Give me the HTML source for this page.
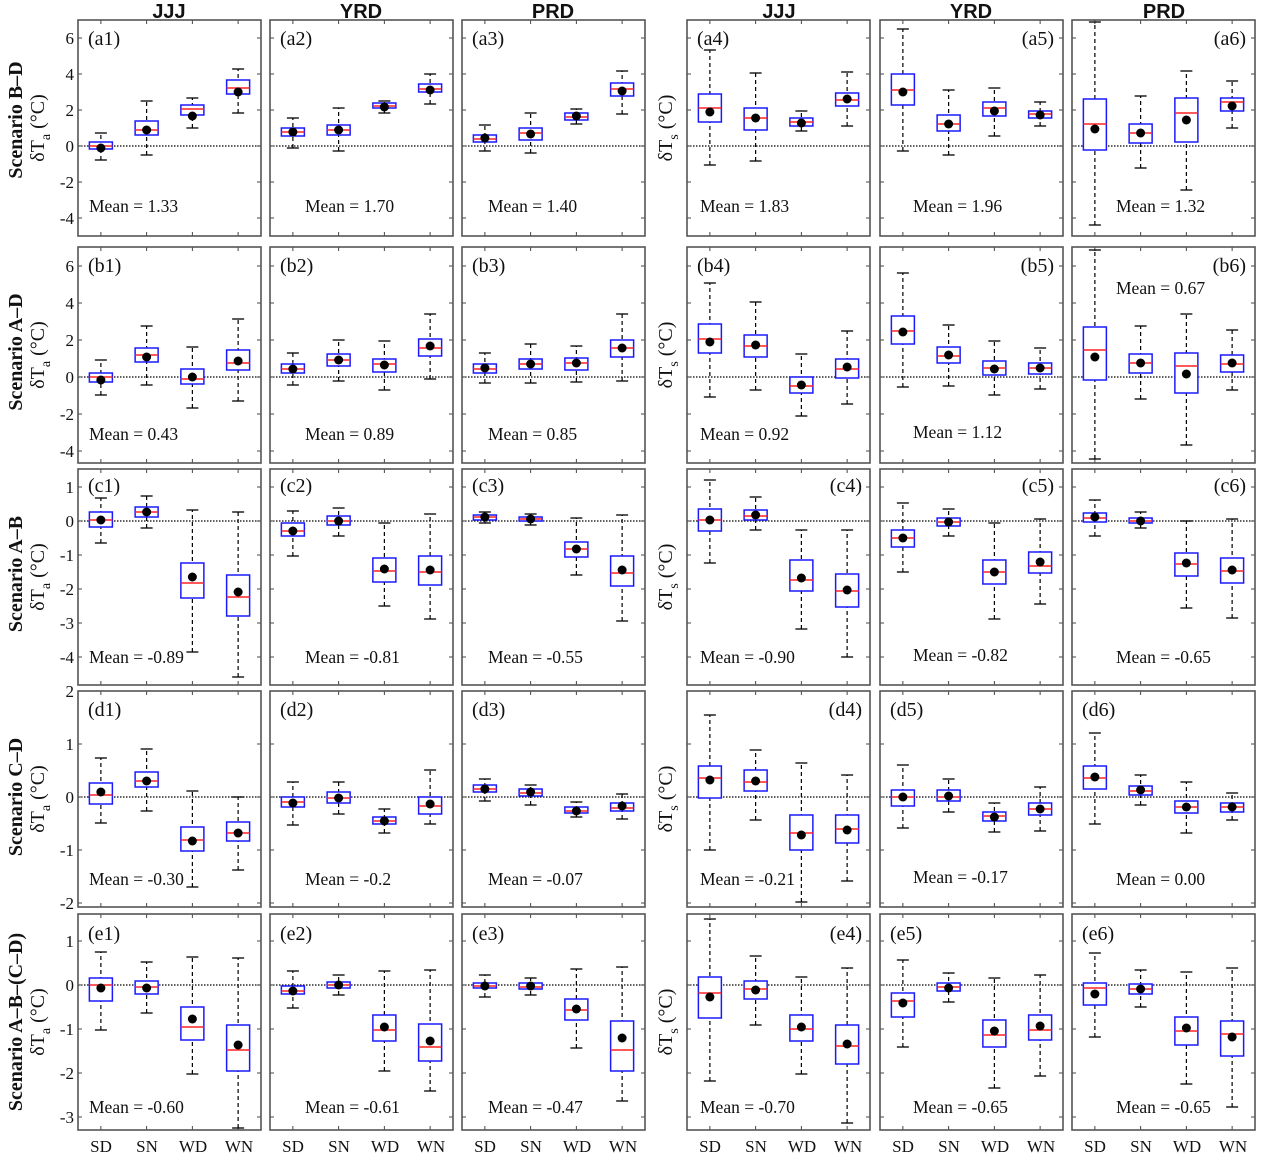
<!DOCTYPE html>
<html><head><meta charset="utf-8"><style>
body{margin:0;background:#fff}
svg{display:block}
text{font-family:"Liberation Serif",serif;fill:#111}
.t{font-size:17px}
.pl{font-size:20px}
.m{font-size:17.5px}
.h{font-family:"Liberation Sans",sans-serif;font-weight:bold;font-size:20px}
.s{font-weight:bold;font-size:20px}
.yl{font-size:20px}
</style></head><body>
<svg id="g" width="1268" height="1169" xmlns="http://www.w3.org/2000/svg">
<g id="shapes"></g>
<text class="h" x="169" y="18" text-anchor="middle">JJJ</text>
<text class="h" x="361" y="18" text-anchor="middle">YRD</text>
<text class="h" x="553" y="18" text-anchor="middle">PRD</text>
<text class="h" x="779" y="18" text-anchor="middle">JJJ</text>
<text class="h" x="971" y="18" text-anchor="middle">YRD</text>
<text class="h" x="1164" y="18" text-anchor="middle">PRD</text>
<text class="s" transform="translate(22,120) rotate(-90)" text-anchor="middle">Scenario B–D</text>
<text class="yl" transform="translate(44,128) rotate(-90)" text-anchor="middle">δT<tspan dy="6" font-size="14">a</tspan><tspan dy="-6"> (°C)</tspan></text>
<text class="s" transform="translate(22,352) rotate(-90)" text-anchor="middle">Scenario A–D</text>
<text class="yl" transform="translate(44,355) rotate(-90)" text-anchor="middle">δT<tspan dy="6" font-size="14">a</tspan><tspan dy="-6"> (°C)</tspan></text>
<text class="s" transform="translate(22,574) rotate(-90)" text-anchor="middle">Scenario A–B</text>
<text class="yl" transform="translate(44,577) rotate(-90)" text-anchor="middle">δT<tspan dy="6" font-size="14">a</tspan><tspan dy="-6"> (°C)</tspan></text>
<text class="s" transform="translate(22,797) rotate(-90)" text-anchor="middle">Scenario C–D</text>
<text class="yl" transform="translate(44,799) rotate(-90)" text-anchor="middle">δT<tspan dy="6" font-size="14">a</tspan><tspan dy="-6"> (°C)</tspan></text>
<text class="s" transform="translate(22,1022) rotate(-90)" text-anchor="middle">Scenario A–B–(C–D)</text>
<text class="yl" transform="translate(44,1022) rotate(-90)" text-anchor="middle">δT<tspan dy="6" font-size="14">a</tspan><tspan dy="-6"> (°C)</tspan></text>
<text class="yl" transform="translate(672,128) rotate(-90)" text-anchor="middle">δT<tspan dy="6" font-size="14">s</tspan><tspan dy="-6"> (°C)</tspan></text>
<text class="yl" transform="translate(672,355) rotate(-90)" text-anchor="middle">δT<tspan dy="6" font-size="14">s</tspan><tspan dy="-6"> (°C)</tspan></text>
<text class="yl" transform="translate(672,577) rotate(-90)" text-anchor="middle">δT<tspan dy="6" font-size="14">s</tspan><tspan dy="-6"> (°C)</tspan></text>
<text class="yl" transform="translate(672,799) rotate(-90)" text-anchor="middle">δT<tspan dy="6" font-size="14">s</tspan><tspan dy="-6"> (°C)</tspan></text>
<text class="yl" transform="translate(672,1022) rotate(-90)" text-anchor="middle">δT<tspan dy="6" font-size="14">s</tspan><tspan dy="-6"> (°C)</tspan></text>
<g class="t" text-anchor="end">
<text x="74" y="44">6</text><text x="74" y="80">4</text><text x="74" y="116">2</text><text x="74" y="152">0</text><text x="74" y="188">-2</text><text x="74" y="224">-4</text>
<text x="74" y="272">6</text><text x="74" y="309">4</text><text x="74" y="346">2</text><text x="74" y="383">0</text><text x="74" y="420">-2</text><text x="74" y="457">-4</text>
<text x="74" y="493">1</text><text x="74" y="527">0</text><text x="74" y="561">-1</text><text x="74" y="595">-2</text><text x="74" y="629">-3</text><text x="74" y="663">-4</text>
<text x="74" y="697">2</text><text x="74" y="750">1</text><text x="74" y="803">0</text><text x="74" y="856">-1</text><text x="74" y="909">-2</text>
<text x="74" y="947">1</text><text x="74" y="991">0</text><text x="74" y="1035">-1</text><text x="74" y="1079">-2</text><text x="74" y="1123">-3</text>
</g>
<g class="t" text-anchor="middle">
<text x="101" y="1152">SD</text><text x="147" y="1152">SN</text><text x="193" y="1152">WD</text><text x="239" y="1152">WN</text>
<text x="293" y="1152">SD</text><text x="339" y="1152">SN</text><text x="385" y="1152">WD</text><text x="431" y="1152">WN</text>
<text x="485" y="1152">SD</text><text x="531" y="1152">SN</text><text x="577" y="1152">WD</text><text x="623" y="1152">WN</text>
<text x="710" y="1152">SD</text><text x="756" y="1152">SN</text><text x="802" y="1152">WD</text><text x="848" y="1152">WN</text>
<text x="903" y="1152">SD</text><text x="949" y="1152">SN</text><text x="995" y="1152">WD</text><text x="1041" y="1152">WN</text>
<text x="1095" y="1152">SD</text><text x="1141" y="1152">SN</text><text x="1187" y="1152">WD</text><text x="1233" y="1152">WN</text>
</g>
<g class="pl">
<text x="88" y="45">(a1)</text><text x="280" y="45">(a2)</text><text x="472" y="45">(a3)</text><text x="697" y="45">(a4)</text>
<text x="1054" y="45" text-anchor="end">(a5)</text><text x="1246" y="45" text-anchor="end">(a6)</text>
<text x="88" y="272">(b1)</text><text x="280" y="272">(b2)</text><text x="472" y="272">(b3)</text><text x="697" y="272">(b4)</text>
<text x="1054" y="272" text-anchor="end">(b5)</text><text x="1246" y="272" text-anchor="end">(b6)</text>
<text x="88" y="492">(c1)</text><text x="280" y="492">(c2)</text><text x="472" y="492">(c3)</text>
<text x="862" y="492" text-anchor="end">(c4)</text><text x="1054" y="492" text-anchor="end">(c5)</text><text x="1246" y="492" text-anchor="end">(c6)</text>
<text x="88" y="716">(d1)</text><text x="280" y="716">(d2)</text><text x="472" y="716">(d3)</text>
<text x="862" y="716" text-anchor="end">(d4)</text><text x="890" y="716">(d5)</text><text x="1082" y="716">(d6)</text>
<text x="88" y="940">(e1)</text><text x="280" y="940">(e2)</text><text x="472" y="940">(e3)</text>
<text x="862" y="940" text-anchor="end">(e4)</text><text x="890" y="940">(e5)</text><text x="1082" y="940">(e6)</text>
</g>
<g class="m">
<text x="89" y="212">Mean = 1.33</text><text x="305" y="212">Mean = 1.70</text><text x="488" y="212">Mean = 1.40</text>
<text x="700" y="212">Mean = 1.83</text><text x="913" y="212">Mean = 1.96</text><text x="1116" y="212">Mean = 1.32</text>
<text x="89" y="440">Mean = 0.43</text><text x="305" y="440">Mean = 0.89</text><text x="488" y="440">Mean = 0.85</text>
<text x="700" y="440">Mean = 0.92</text><text x="913" y="438">Mean = 1.12</text><text x="1116" y="294">Mean = 0.67</text>
<text x="89" y="663">Mean = -0.89</text><text x="305" y="663">Mean = -0.81</text><text x="488" y="663">Mean = -0.55</text>
<text x="700" y="663">Mean = -0.90</text><text x="913" y="661">Mean = -0.82</text><text x="1116" y="663">Mean = -0.65</text>
<text x="89" y="885">Mean = -0.30</text><text x="305" y="885">Mean = -0.2</text><text x="488" y="885">Mean = -0.07</text>
<text x="700" y="885">Mean = -0.21</text><text x="913" y="883">Mean = -0.17</text><text x="1116" y="885">Mean = 0.00</text>
<text x="89" y="1113">Mean = -0.60</text><text x="305" y="1113">Mean = -0.61</text><text x="488" y="1113">Mean = -0.47</text>
<text x="700" y="1113">Mean = -0.70</text><text x="913" y="1113">Mean = -0.65</text><text x="1116" y="1113">Mean = -0.65</text>
</g>
</svg>
<script>
var cols=[78,270,462,687,880,1072],W=183,tops=[20,247,469,691,914],H=216;
var zero=[146,377,521,797,985];
var ticks=[[38,74,110,146,182,218],[266,303,340,377,414,451],[487,521,555,589,623,657],[691,744,797,850,903],[941,985,1029,1073,1117]];
var D=[
[[[160,149,146,142,133,148],[155,135,130,121,101,130],[128,115,109,105,98,116],[113,94,88,80,69,92]],
 [[148,136,132,128,118,132],[151,135,130,125,108,130],[113,108,106,103,101,107],[104,92,89,84,74,90]],
 [[151,142,139,135,125,138],[153,140,133,128,113,134],[124,120,117,113,109,116],[114,96,89,83,71,91]],
 [[165,122,108,94,50,112],[161,130,118,108,73,118],[131,126,122,118,111,123],[126,106,100,93,72,99]],
 [[151,105,90,74,29,92],[155,131,124,115,90,124],[136,116,108,102,88,111],[126,118,114,111,102,115]],
 [[225,150,124,99,22,129],[168,143,133,124,96,133],[190,142,113,98,71,120],[128,111,102,98,81,106]]],
[[[395,382,377,373,360,380],[385,362,355,348,326,357],[408,384,379,369,347,377],[401,370,363,350,319,361]],
 [[385,373,369,364,353,369],[381,366,360,354,340,360],[390,372,364,359,341,365],[379,356,348,339,314,346]],
 [[383,373,369,364,353,368],[383,369,364,359,344,364],[382,370,363,358,346,363],[381,357,348,340,314,348]],
 [[397,353,339,324,283,342],[390,357,346,335,302,345],[416,393,386,377,354,385],[404,378,369,359,331,367]],
 [[387,344,331,316,273,332],[386,363,356,347,325,355],[395,375,368,361,341,369],[389,374,368,363,348,368]],
 [[459,380,350,327,250,357],[399,373,363,354,326,363],[445,393,366,353,314,374],[390,372,364,355,330,363]]],
[[[543,527,520,512,498,520],[528,517,512,507,496,512],[652,598,583,563,510,577],[677,616,597,575,512,592]],
 [[556,536,531,523,511,531],[536,525,521,516,508,521],[606,582,571,558,523,569],[619,585,572,556,514,570]],
 [[523,520,517,515,512,517],[525,521,519,517,514,519],[575,557,549,542,518,549],[621,586,573,556,515,570]],
 [[563,531,520,509,480,520],[530,520,516,510,497,515],[629,591,580,560,530,578],[657,607,591,574,530,590]],
 [[572,547,538,530,503,538],[536,526,522,518,509,522],[619,584,572,560,523,572],[604,573,566,552,519,562]],
 [[536,522,518,513,500,517],[528,523,521,518,512,521],[608,576,564,553,521,563],[618,583,571,558,519,570]]],
[[[823,804,795,783,758,792],[811,787,781,772,749,781],[887,851,840,827,791,841],[870,841,833,822,797,833]],
 [[825,807,802,797,782,803],[814,803,798,792,782,798],[833,824,821,817,809,821],[824,814,806,797,770,804]],
 [[801,792,789,785,779,789],[805,796,793,789,785,792],[817,813,811,807,802,811],[819,811,808,803,794,806]],
 [[850,798,778,766,715,780],[820,791,782,770,750,781],[902,850,833,815,763,835],[881,843,829,815,775,830]],
 [[828,806,797,790,765,797],[812,801,797,790,779,796],[832,821,816,812,803,817],[831,815,809,803,787,809]],
 [[824,789,778,766,733,777],[805,795,791,786,775,790],[833,813,807,801,782,807],[820,812,807,803,793,807]]],
[[[1030,1001,985,978,952,988],[1013,994,987,981,962,988],[1074,1040,1027,1007,957,1019],[1128,1071,1050,1025,958,1045]],
 [[1008,994,991,986,971,991],[995,988,985,982,975,985],[1071,1041,1030,1015,971,1027],[1091,1061,1047,1024,970,1041]],
 [[997,988,986,983,975,986],[995,989,987,983,978,986],[1048,1020,1010,999,969,1009],[1101,1071,1050,1021,967,1038]],
 [[1081,1018,993,977,919,997],[1025,999,989,981,956,990],[1074,1041,1029,1015,977,1027],[1123,1064,1046,1025,968,1044]],
 [[1047,1017,1001,993,960,1003],[1002,991,987,983,973,988],[1088,1047,1035,1020,978,1031],[1076,1040,1030,1015,975,1026]],
 [[1037,1005,988,983,953,994],[1007,994,989,984,970,989],[1084,1045,1031,1017,972,1028],[1107,1056,1034,1021,968,1037]]]
];
var s='';
for(var r=0;r<5;r++)for(var c=0;c<6;c++){
 var x0=cols[c],y0=tops[r];
 s+='<line x1="'+x0+'" x2="'+(x0+W)+'" y1="'+zero[r]+'" y2="'+zero[r]+'" stroke="#000" stroke-width="1.2" stroke-dasharray="1.5,1.5"/>';
 ticks[r].forEach(function(t){s+='<line x1="'+x0+'" x2="'+(x0+4)+'" y1="'+t+'" y2="'+t+'" stroke="#444"/><line x1="'+(x0+W-4)+'" x2="'+(x0+W)+'" y1="'+t+'" y2="'+t+'" stroke="#444"/>';});
 for(var b=0;b<4;b++){
  var cx=x0+W*(0.125+0.25*b),d=D[r][c][b];
  s+='<line x1="'+cx+'" x2="'+cx+'" y1="'+y0+'" y2="'+(y0+4)+'" stroke="#444"/><line x1="'+cx+'" x2="'+cx+'" y1="'+(y0+H-4)+'" y2="'+(y0+H)+'" stroke="#444"/>';
  s+='<line x1="'+cx+'" x2="'+cx+'" y1="'+d[0]+'" y2="'+d[4]+'" stroke="#000" stroke-width="1.2" stroke-dasharray="4,3"/>';
  s+='<line x1="'+(cx-6)+'" x2="'+(cx+6)+'" y1="'+d[0]+'" y2="'+d[0]+'" stroke="#000" stroke-width="1.3"/><line x1="'+(cx-6)+'" x2="'+(cx+6)+'" y1="'+d[4]+'" y2="'+d[4]+'" stroke="#000" stroke-width="1.3"/>';
  s+='<rect x="'+(cx-11.5)+'" y="'+d[3]+'" width="23" height="'+(d[1]-d[3])+'" fill="#fff" stroke="#1a1aff" stroke-width="1.5"/>';
  s+='<line x1="'+(cx-11.5)+'" x2="'+(cx+11.5)+'" y1="'+d[2]+'" y2="'+d[2]+'" stroke="#f22" stroke-width="1.5"/>';
  s+='<circle cx="'+cx+'" cy="'+d[5]+'" r="4.5" fill="#000"/>';
 }
 s+='<rect x="'+x0+'" y="'+y0+'" width="'+W+'" height="'+H+'" fill="none" stroke="#555" stroke-width="1.6"/>';
}
document.getElementById('shapes').innerHTML=s;
</script>
</body></html>
